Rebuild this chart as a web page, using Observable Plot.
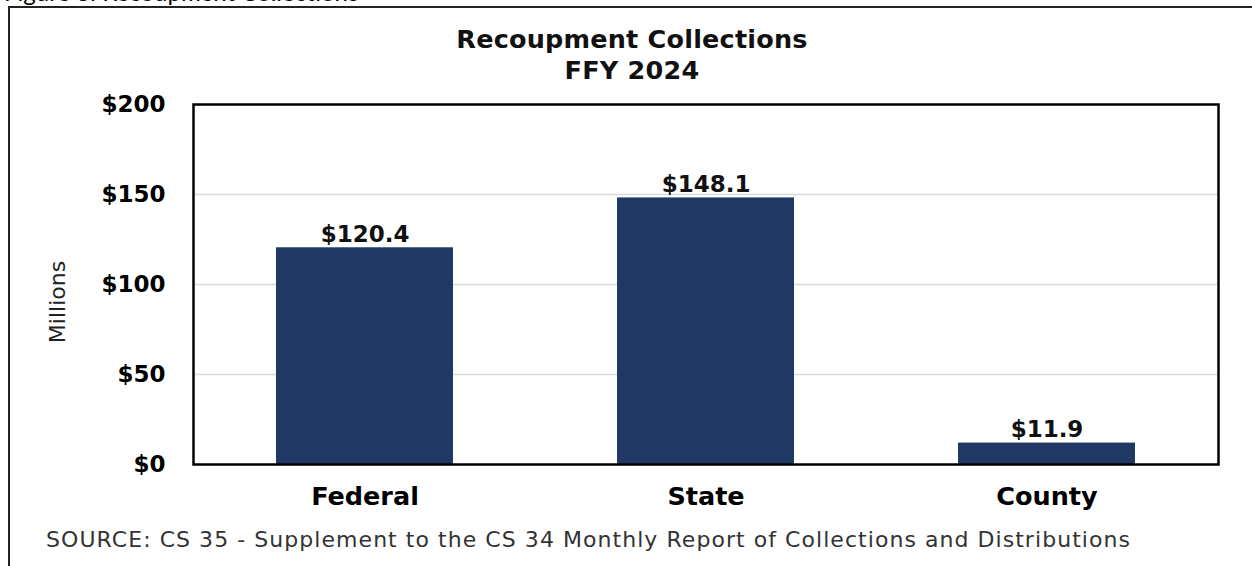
<!DOCTYPE html>
<html>
<head>
<meta charset="utf-8">
<script src="https://cdn.jsdelivr.net/npm/d3@7"></script>
<script src="https://cdn.jsdelivr.net/npm/@observablehq/plot@0.6"></script>
<style>
  html, body { margin: 0; padding: 0; background: #fff; overflow: hidden; }
  #wrap { position: relative; width: 1252px; height: 566px; font-family: "DejaVu Sans", sans-serif; color: #000; }
  #chart { position: absolute; left: 0; top: 0; }
  #border { position: absolute; left: 8px; top: 6px; width: 1300px; height: 600px; border-left: 2px solid #222; border-top: 2px solid #222; }
  #fig { position: absolute; left: 4px; top: -23px; font-family: Lato, sans-serif; font-size: 24px; white-space: nowrap; }
  #title { position: absolute; left: 0; width: 1264px; top: 24px; text-align: center; font-weight: 700; font-size: 25.5px; line-height: 31px; color: #111; letter-spacing: 0.2px; }
  #ylabel { position: absolute; left: 58px; top: 302px; width: 200px; margin-left: -100px; margin-top: -14px; height: 28px; line-height: 28px; text-align: center; transform: rotate(-90deg); font-size: 22px; color: #222; }
  #caption { position: absolute; left: 46px; top: 527px; font-size: 22px; letter-spacing: 1.05px; color: #333; white-space: nowrap; }
</style>
</head>
<body>
<div id="wrap">
  <div id="fig">Figure 3: Recoupment Collections</div>
  <div id="border"></div>
  <div id="chart"></div>
  <div id="title">Recoupment Collections<br>FFY 2024</div>
  <div id="ylabel"></div>
  <div id="caption">SOURCE: CS 35 - Supplement to the CS 34 Monthly Report of Collections and Distributions</div>
</div>
<script>
const categories = ["Federal", "State", "County"];
const values = [120.4, 148.1, 11.9];
const yTicks = [0, 50, 100, 150, 200];
const gridTicks = [50, 100, 150];
const yLabel = "Millions";

const data = categories.map((c, i) => ({category: c, value: values[i]}));

const chart = Plot.plot({
  width: 1252,
  height: 566,
  marginLeft: 193,
  marginRight: 34,
  marginTop: 104,
  marginBottom: 102,
  style: {fontFamily: "'DejaVu Sans', sans-serif", background: "transparent", color: "#000"},
  x: {domain: categories, paddingInner: 0.48, paddingOuter: 0.24},
  y: {domain: [0, 200]},
  marks: [
    Plot.ruleY(gridTicks, {stroke: "#d9d9d9", strokeWidth: 1.5}),
    Plot.barY(data, {x: "category", y: "value", fill: "#1f3864"}),
    Plot.text(data, {x: "category", y: "value", text: d => "$" + d.value.toFixed(1), lineAnchor: "bottom", dy: -6, fontSize: 23, fontWeight: 700, fill: "#111"}),
    Plot.axisY({ticks: yTicks, tickFormat: d => "$" + d, tickSize: 0, tickPadding: 28, fontSize: 23, fontWeight: 700, label: null}),
    Plot.axisX({tickSize: 0, tickPadding: 22, fontSize: 25.5, fontWeight: 700, label: null}),
    Plot.frame({stroke: "#000", strokeWidth: 2.5})
  ]
});
document.getElementById("chart").appendChild(chart);
document.getElementById("ylabel").textContent = yLabel;
</script>
</body>
</html>
